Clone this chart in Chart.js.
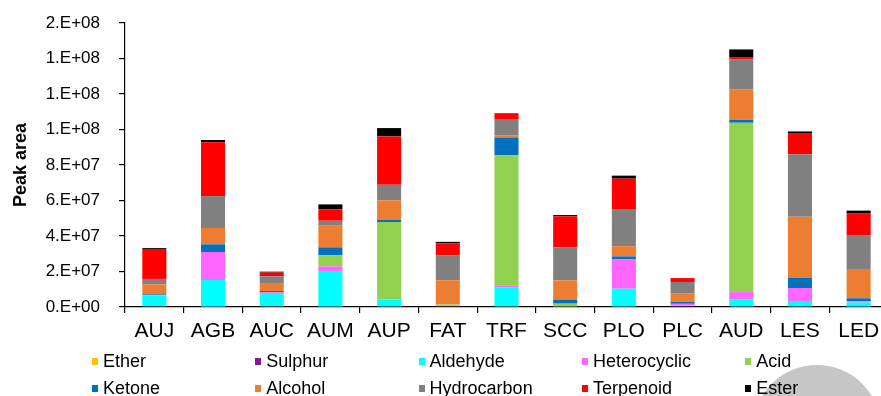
<!DOCTYPE html>
<html>
<head>
<meta charset="utf-8">
<script src="https://cdn.jsdelivr.net/npm/chart.js@4/dist/chart.umd.min.js"></script>
<style>
  html, body { margin: 0; padding: 0; background: #fff; overflow: hidden; }
  #wrap { position: relative; width: 881px; height: 396px; overflow: hidden; }
  #plot { position: absolute; left: 0; top: 0; }
  #blob { position: absolute; left: 753px; top: 365px; width: 128px; height: 128px;
          border-radius: 50%; background: #c6c6c6; }
  .lg { position: absolute; font-family: 'Liberation Sans', Arial, sans-serif; font-size: 18px;
        color: #000; white-space: nowrap; line-height: 20px; }
  .lg i { position: absolute; left: 0; top: 7px; width: 6px; height: 7px; }
  .lg span { position: absolute; left: 11px; top: 0; }
</style>
</head>
<body>
<div id="wrap">
  <div id="blob"></div>
  <canvas id="plot" width="888" height="396"></canvas>
  <div id="legend"></div>
</div>
<script>
// Sample groups along the x axis
const categories = ['AUJ', 'AGB', 'AUC', 'AUM', 'AUP', 'FAT', 'TRF', 'SCC', 'PLO', 'PLC', 'AUD', 'LES', 'LED'];

// Peak areas per compound class (stacked bottom to top in this order)
const ether        = [0, 0, 0, 0, 0, 0.3e6, 0, 0, 0, 0, 0, 0, 0];
const sulphur      = [0.4e6, 0.2e6, 0.4e6, 0, 0, 0.3e6, 0, 0, 0.3e6, 0.5e6, 0, 0, 0.2e6];
const aldehyde     = [6.0e6, 15.0e6, 7.5e6, 20.3e6, 4.2e6, 0, 10.9e6, 0.3e6, 10.0e6, 0.3e6, 4.2e6, 3.4e6, 2.3e6];
const heterocyclic = [0.4e6, 15.8e6, 0.4e6, 2.6e6, 0, 0.4e6, 1.1e6, 0, 16.7e6, 1.0e6, 4.2e6, 7.3e6, 0.7e6];
const acid         = [0, 0, 0, 6.2e6, 43.7e6, 0.5e6, 73.4e6, 1.6e6, 0, 0, 95.4e6, 0, 0];
const ketone       = [0.4e6, 4.3e6, 0.7e6, 4.5e6, 1.3e6, 0, 10.1e6, 2.3e6, 1.5e6, 1.1e6, 1.7e6, 5.9e6, 1.7e6];
const alcohol      = [5.6e6, 9.2e6, 4.5e6, 12.2e6, 10.9e6, 13.6e6, 1.3e6, 10.8e6, 5.8e6, 4.6e6, 17.2e6, 34.3e6, 16.5e6];
const hydrocarbon  = [3.0e6, 18.0e6, 3.8e6, 2.8e6, 8.8e6, 14.1e6, 8.7e6, 18.6e6, 20.9e6, 6.6e6, 16.7e6, 35.1e6, 18.8e6];
const terpenoid    = [16.9e6, 30.3e6, 2.1e6, 6.4e6, 27.2e6, 6.6e6, 3.7e6, 17.5e6, 17.1e6, 2.2e6, 1.4e6, 12.0e6, 12.7e6];
const ester        = [0.5e6, 1.3e6, 0.5e6, 2.8e6, 4.7e6, 0.9e6, 0, 0.7e6, 1.7e6, 0, 4.3e6, 0.9e6, 1.4e6];

// Y axis range
const yMin = 0;
const yMax = 1.6e8;
const yStep = 2e7;

const seriesNames = ['Ether', 'Sulphur', 'Aldehyde', 'Heterocyclic', 'Acid',
                     'Ketone', 'Alcohol', 'Hydrocarbon', 'Terpenoid', 'Ester'];
const seriesData = [ether, sulphur, aldehyde, heterocyclic, acid,
                    ketone, alcohol, hydrocarbon, terpenoid, ester];
const seriesColors = ['#FFC000', '#7F1F8A', '#00FFFF', '#FF66FF', '#92D050',
                      '#0070C0', '#ED7D31', '#808080', '#FF0000', '#000000'];

const FONT = "'Liberation Sans', Arial, sans-serif";

// Excel-style "0.E+00" number format
function sciLabel(v) {
  const [m, e] = Number(v).toExponential(0).split('e');
  const exp = parseInt(e, 10);
  const sign = exp < 0 ? '-' : '+';
  const digits = String(Math.abs(exp)).padStart(2, '0');
  return m + '.E' + sign + digits;
}

const datasets = seriesNames.map((name, i) => ({
  label: name,
  data: seriesData[i],
  backgroundColor: seriesColors[i],
  borderWidth: 0,
  barPercentage: 0.41,
  categoryPercentage: 1.0
}));

new Chart(document.getElementById('plot'), {
  type: 'bar',
  data: { labels: categories, datasets },
  options: {
    responsive: false,
    animation: false,
    layout: { padding: { top: 23, right: 0, left: 0, bottom: 0 } },
    plugins: { legend: { display: false }, tooltip: { enabled: false } },
    scales: {
      x: {
        stacked: true,
        offset: true,
        border: { display: true, color: '#000', width: 1.2 },
        grid: { display: true, offset: true, drawOnChartArea: false, color: '#000', lineWidth: 1.2, tickLength: 6 },
        ticks: { color: '#000', font: { family: FONT, size: 21 }, padding: 6, maxRotation: 0, autoSkip: false },
        afterFit: (s) => { s.height = 89; }
      },
      y: {
        stacked: true,
        min: yMin,
        max: yMax,
        border: { display: true, color: '#000', width: 1.2 },
        grid: { display: true, drawOnChartArea: false, color: '#000', lineWidth: 1.2, tickLength: 6 },
        ticks: { stepSize: yStep, color: '#000', font: { family: FONT, size: 17 }, padding: 19,
                 callback: (v) => sciLabel(v) },
        title: { display: true, text: 'Peak area', color: '#000',
                 font: { family: FONT, size: 18, weight: 'bold' }, padding: { top: 10, bottom: 0 } },
        afterFit: (s) => { s.width = 125; s.paddingTop = 0; s.paddingBottom = 0; }
      }
    }
  }
});

// Two-row legend, five columns
const legend = document.getElementById('legend');
seriesNames.forEach((name, i) => {
  const col = i % 5, row = Math.floor(i / 5);
  const item = document.createElement('div');
  item.className = 'lg';
  item.style.left = (92 + col * 163.3) + 'px';
  item.style.top = (351 + row * 27) + 'px';
  const sw = document.createElement('i');
  sw.style.background = seriesColors[i];
  const tx = document.createElement('span');
  tx.textContent = name;
  item.appendChild(sw);
  item.appendChild(tx);
  legend.appendChild(item);
});
</script>
</body>
</html>
